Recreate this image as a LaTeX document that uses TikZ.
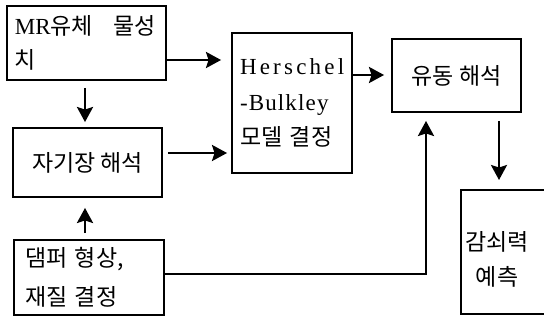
\documentclass[tikz,border=0pt]{standalone}
\usepackage{fontspec}
\setmainfont{Liberation Serif}
\newfontfamily\kr{Noto Sans CJK KR}
\newfontfamily\lat{Liberation Serif}
\newfontfamily\latwide[LetterSpace=14]{Liberation Serif}
\newfontfamily\latmid[LetterSpace=5]{Liberation Serif}
\usetikzlibrary{arrows.meta}
\begin{document}
\begin{tikzpicture}[x=1pt,y=-1pt,
  box/.style={draw, line width=1.9pt, inner sep=0pt},
  arr/.style={line width=2.6pt, -{Stealth[length=15pt,width=16pt,inset=2.5pt]}},
  txt/.style={font=\kr\fontsize{23}{34}\selectfont}]
\useasboundingbox (0,0) rectangle (544,324);
% boxes
\node[box, txt, minimum width=159pt, minimum height=74pt, text width=143pt, align=left] (mr) at (86.5,43)
  {{\lat\fontsize{23}{34}\selectfont MR}유체\hspace{20pt}물성\\치};
\node[box, txt, minimum width=149pt, minimum height=69pt] (mag) at (87.5,162.5) {자기장 해석};
\node[box, minimum width=150pt, minimum height=75pt, text width=128pt, align=left,
  font=\kr\fontsize{23}{39}\selectfont] (dmp) at (89,277.5) {댐퍼 형상,\\재질 결정};
\node[box, minimum width=120pt, minimum height=140pt, text width=104pt, align=left,
  font=\kr\fontsize{23}{35.5}\selectfont] (hb) at (292,103)
  {{\latwide\fontsize{23}{35.5}\selectfont Herschel}\\{\latmid\fontsize{23}{35.5}\selectfont -Bulkley}\\모델 결정};
\node[box, txt, minimum width=129pt, minimum height=73pt] (flow) at (456.5,75.5) {유동 해석};
\node[txt, align=center, font=\kr\fontsize{23}{35}\selectfont] (dmg) at (497,259.5) {감쇠력\\예측};
% open box of the last step (runs past the right edge)
\coordinate (dmgR1) at (544,190);
\coordinate (dmgTL) at (461,190);
\coordinate (dmgBL) at (461,314);
\coordinate (dmgR2) at (544,314);
\coordinate (dmgtop) at (499,190);
\draw[line width=1.9pt] (dmgR1) -- (dmgTL) -- (dmgBL) -- (dmgR2);
% connectors
\draw[arr, shorten >=10pt] (mr.east |- 0,60) -- (hb.west |- 0,60);
\draw[arr, shorten <=5pt, shorten >=4pt] (mag.east |- 0,153) -- (hb.west |- 0,153);
\draw[arr, shorten <=7pt, shorten >=5pt] (mr.south -| 85,0) -- (mag.north -| 85,0);
\draw[arr, shorten <=6pt, shorten >=10pt] (dmp.north -| 85,0) -- (mag.south -| 85,0);
\draw[arr, shorten >=7pt] (hb.east |- 0,75) -- (flow.west |- 0,75);
\draw[arr, shorten <=8pt, shorten >=10pt] (flow.south -| 499,0) -- (dmgtop);
\draw[arr, shorten >=8pt] (dmp.east |- 0,274) -| (flow.south -| 426,0);
\end{tikzpicture}
\end{document}
